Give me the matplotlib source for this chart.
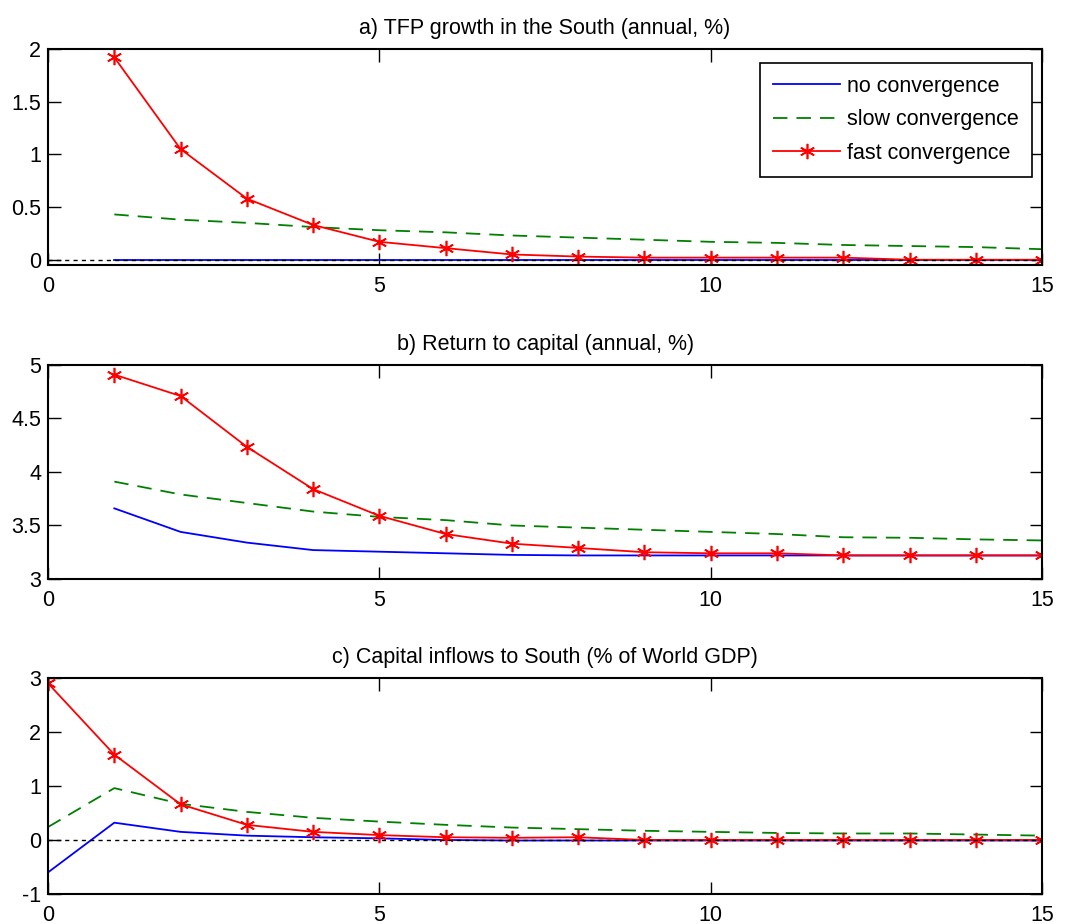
import matplotlib
matplotlib.use("Agg")
import matplotlib.pyplot as plt

plt.rcParams['font.family'] = ['Liberation Sans', 'DejaVu Sans']

# x positions (years)
years_ab = list(range(1, 16))
years_c = list(range(0, 16))

# a) TFP growth in the South (annual, %)
tfp_none = [0.0] * 15
tfp_slow = [0.43, 0.38, 0.35, 0.31, 0.28, 0.26, 0.23, 0.21, 0.19, 0.17, 0.16, 0.14, 0.13, 0.12, 0.10]
tfp_fast = [1.92, 1.05, 0.58, 0.33, 0.17, 0.11, 0.05, 0.03, 0.02, 0.02, 0.02, 0.02, 0.0, 0.0, 0.0]

# b) Return to capital (annual, %)
ret_none = [3.66, 3.44, 3.34, 3.27, 3.255, 3.24, 3.225, 3.22, 3.22, 3.22, 3.22, 3.22, 3.22, 3.22, 3.22]
ret_slow = [3.91, 3.79, 3.71, 3.63, 3.58, 3.55, 3.50, 3.48, 3.46, 3.44, 3.42, 3.39, 3.385, 3.37, 3.36]
ret_fast = [4.91, 4.71, 4.235, 3.84, 3.59, 3.42, 3.33, 3.29, 3.25, 3.24, 3.24, 3.22, 3.22, 3.22, 3.22]

# c) Capital inflows to South (% of World GDP)
cap_none = [-0.6, 0.32, 0.15, 0.08, 0.05, 0.03, 0.0, -0.01, -0.01, -0.01, -0.01, -0.01, -0.01, -0.01, -0.01, -0.01]
cap_slow = [0.24, 0.96, 0.67, 0.52, 0.41, 0.34, 0.28, 0.23, 0.20, 0.17, 0.15, 0.13, 0.12, 0.12, 0.10, 0.08]
cap_fast = [2.9, 1.58, 0.66, 0.28, 0.15, 0.09, 0.05, 0.04, 0.05, 0.0, 0.0, 0.0, 0.0, 0.0, 0.0, 0.0]

titles = ['a) TFP growth in the South (annual, %)',
          'b) Return to capital (annual, %)',
          'c) Capital inflows to South (% of World GDP)']
labels = ['no convergence', 'slow convergence', 'fast convergence']

fig = plt.figure(figsize=(10.75, 9.24), dpi=100)
left, width = 0.0447, 0.9247
axa = fig.add_axes([left, 0.7132, width, 0.2338])
axb = fig.add_axes([left, 0.3734, width, 0.2316])
axc = fig.add_axes([left, 0.0325, width, 0.2338])

star = (6, 2, 0)
fs = 15.5

def draw(ax, x, none, slow, fast, title, ylim, yticks, zero_line):
    ax.plot(x, none, color='#0000ff', lw=1.3, label=labels[0])
    ax.plot(x, slow, color='#008000', lw=1.3, dashes=(8, 5), label=labels[1])
    ax.plot(x, fast, color='#ff0000', lw=1.3, marker=star, markersize=11,
            markeredgewidth=1.2, label=labels[2])
    if zero_line:
        ax.axhline(0, color='black', lw=1.0, ls=(0, (3, 3)), zorder=5)
    ax.set_xlim(0, 15)
    ax.set_ylim(*ylim)
    ax.set_xticks([0, 5, 10, 15])
    ax.set_yticks(yticks)
    ax.set_yticklabels([('%g' % t) for t in yticks])
    ax.tick_params(direction='in', length=9, width=1, top=True, right=True,
                   labelsize=fs, pad=5)
    ax.tick_params(axis='x', pad=8)
    for s in ax.spines.values():
        s.set_linewidth(1.5)
    ax.set_title(title, fontsize=fs, pad=11)

draw(axa, years_ab, tfp_none, tfp_slow, tfp_fast, titles[0], (-0.05, 2.0),
     [0, 0.5, 1, 1.5, 2], True)
draw(axb, years_ab, ret_none, ret_slow, ret_fast, titles[1], (3, 5),
     [3, 3.5, 4, 4.5, 5], False)
draw(axc, years_c, cap_none, cap_slow, cap_fast, titles[2], (-1, 3),
     [-1, 0, 1, 2, 3], True)

leg = axa.legend(loc='upper right', bbox_to_anchor=(0.99, 0.935), fontsize=fs,
                 fancybox=False, edgecolor='black', framealpha=1,
                 handlelength=3.1, borderpad=0.6, labelspacing=0.58,
                 handletextpad=0.35, borderaxespad=0)
leg.get_frame().set_linewidth(1.2)

fig.savefig('out.png', dpi=100)
